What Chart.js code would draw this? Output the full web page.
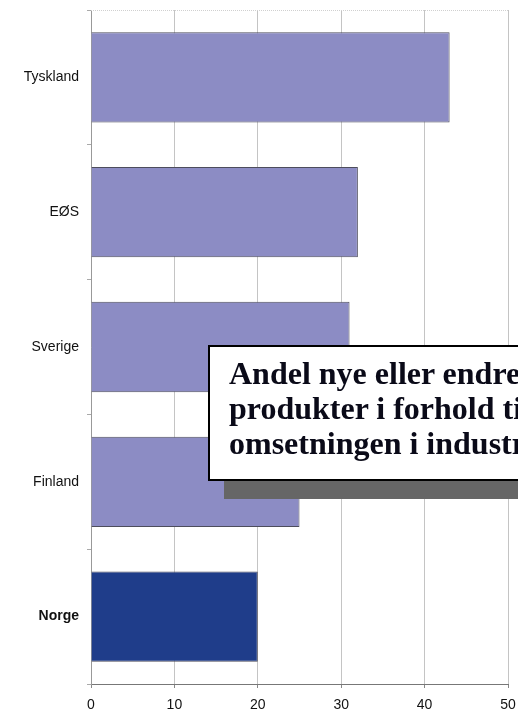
<!DOCTYPE html>
<html>
<head>
<meta charset="utf-8">
<script src="https://cdn.jsdelivr.net/npm/chart.js@4"></script>
<style>
  html, body { margin: 0; padding: 0; background: #fff; overflow: hidden; }
  #wrap { position: relative; width: 518px; height: 711px; overflow: hidden; }
  #note-shadow, #note {
    position: absolute;
    width: 340px;
    height: 136px;
  }
  #note-shadow { left: 224px; top: 363px; background: #666; }
  #note {
    left: 208px; top: 345px;
    background: #fff;
    border: 2px solid #000;
    font: bold 32px "Liberation Serif", "Times New Roman", serif;
    line-height: 35px;
    color: #0a0a18;
    padding: 9px 0 0 19px;
    box-sizing: border-box;
    white-space: nowrap;
  }
</style>
</head>
<body>
<div id="wrap">
  <canvas id="chart" width="518" height="711"></canvas>
  <div id="note-shadow"></div>
  <div id="note">Andel nye eller endrede<br>produkter i forhold til<br>omsetningen i industrien</div>
</div>
<script>
// chart data
const countries = ['Tyskland', 'EØS', 'Sverige', 'Finland', 'Norge'];
const shareNew = [43, 32, 31, 25, 20];
const xTicks = [0, 10, 20, 30, 40, 50];

const barColors = countries.map(c => c === 'Norge' ? '#1f3d8a' : '#8c8cc4');

// faint frame line along the top of the plot area
const topLine = {
    id: 'topLine',
    afterDraw(chart) {
        const { ctx, chartArea } = chart;
        ctx.save();
        ctx.strokeStyle = '#d0d0d0';
        ctx.setLineDash([1, 1]);
        ctx.lineWidth = 1;
        ctx.beginPath();
        ctx.moveTo(chartArea.left, chartArea.top + 0.5);
        ctx.lineTo(chartArea.right, chartArea.top + 0.5);
        ctx.stroke();
        ctx.restore();
    }
};

new Chart(document.getElementById('chart'), {
    type: 'bar',
    data: {
        labels: countries,
        datasets: [{
            data: shareNew,
            backgroundColor: barColors,
            borderColor: '#4d4d5c',
            borderWidth: 1,
            categoryPercentage: 0.67,
            barPercentage: 1
        }]
    },
    options: {
        indexAxis: 'y',
        responsive: false,
        animation: false,
        layout: { padding: { top: 10, right: 10, left: 0, bottom: 0 } },
        plugins: {
            legend: { display: false },
            tooltip: { enabled: false }
        },
        scales: {
            x: {
                min: xTicks[0],
                max: xTicks[xTicks.length - 1],
                afterBuildTicks: (scale) => { scale.ticks = xTicks.map(v => ({ value: v })); },
                grid: { color: '#c4c4c4', tickLength: 4, tickColor: '#888' },
                border: { color: '#777' },
                ticks: {
                    color: '#111',
                    padding: 9,
                    font: { family: 'Liberation Sans, Arial, sans-serif', size: 14 }
                },
                afterFit: (scale) => {
                    scale.height = 27;
                    scale.paddingLeft = 0;
                    scale.paddingRight = 0;
                }
            },
            y: {
                grid: { offset: true, drawOnChartArea: false, tickLength: 4, tickColor: '#aaa' },
                border: { color: '#999' },
                ticks: {
                    color: '#111',
                    padding: 8,
                    font: (ctx) => ({
                        family: 'Liberation Sans, Arial, sans-serif',
                        size: 14,
                        weight: countries[ctx.index] === 'Norge' ? 'bold' : 'normal'
                    })
                },
                afterFit: (scale) => {
                    scale.width = 91;
                    scale.paddingTop = 0;
                    scale.paddingBottom = 0;
                }
            }
        }
    },
    plugins: [topLine]
});
</script>
</body>
</html>
